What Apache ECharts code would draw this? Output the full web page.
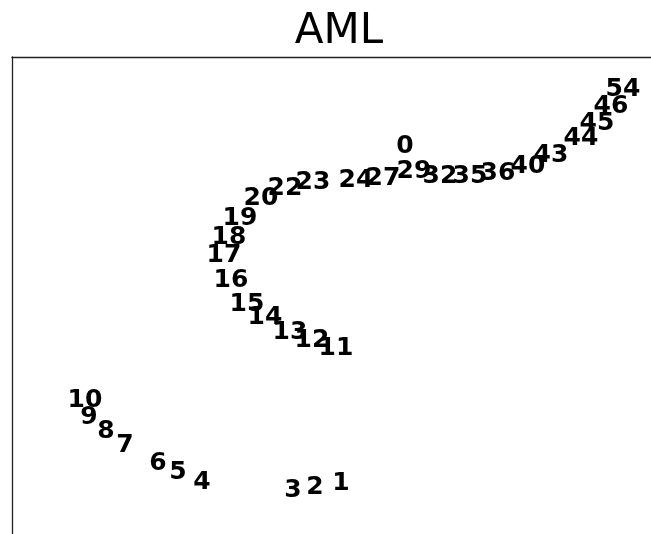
<!DOCTYPE html>
<html>
<head>
<meta charset="utf-8">
<script src="https://cdn.jsdelivr.net/npm/echarts@6/dist/echarts.min.js"></script>
<style>
html,body{margin:0;padding:0;background:#fff;}
#chart{width:651px;height:534px;}
</style>
</head>
<body>
<div id="chart"></div>
<script>
// Sample labels and their 2-D embedding coordinates
const labels = ['0','1','2','3','4','5','6','7','8','9','10','11','12','13','14','15','16','17','18','19','20','22','23','24','27','29','32','35','36','40','43','44','45','46','54'];
const xs = [393,329,303,281,190,166,146,113,94,77,73,324,300,278,253,235,219,212,217,228,249,273,301,344,371,402,428,458,486,516,539,569,585,599,611];
const ys = [388,51,47,44,52,62,71,89,103,117,134,186,194,202,217,230,254,279,297,316,336,346,352,354,356,363,358,358,361,368,379,396,411,428,445];

const title = 'AML';

const data = labels.map((l, i) => ({ name: l, value: [xs[i], ys[i]] }));

const chart = echarts.init(document.getElementById('chart'), null, { renderer: 'canvas' });
chart.setOption({
  animation: false,
  backgroundColor: '#fff',
  title: {
    text: title,
    left: 334,
    textAlign: 'center',
    top: 6,
    textStyle: { fontFamily: 'DejaVu Sans', fontSize: 42, fontWeight: 'normal', color: '#000' }
  },
  grid: { left: 12, top: 57, right: 0, bottom: 0, containLabel: false },
  xAxis: {
    type: 'value', min: 0, max: 639,
    position: 'top',
    axisLine: { show: true, onZero: false, lineStyle: { color: '#222', width: 1.3 } },
    axisTick: { show: false }, axisLabel: { show: false }, splitLine: { show: false }
  },
  yAxis: {
    type: 'value', min: 0, max: 477,
    axisLine: { show: true, onZero: false, lineStyle: { color: '#222', width: 1.3 } },
    axisTick: { show: false }, axisLabel: { show: false }, splitLine: { show: false }
  },
  series: [{
    type: 'scatter',
    symbolSize: 0,
    itemStyle: { opacity: 1 },
    data: data,
    label: {
      show: true,
      position: 'inside',
      formatter: p => p.name,
      fontFamily: 'DejaVu Sans',
      fontWeight: 'bold',
      fontSize: 25,
      color: '#000',
      textBorderWidth: 0
    },
    emphasis: { disabled: true }
  }]
});
</script>
</body>
</html>
